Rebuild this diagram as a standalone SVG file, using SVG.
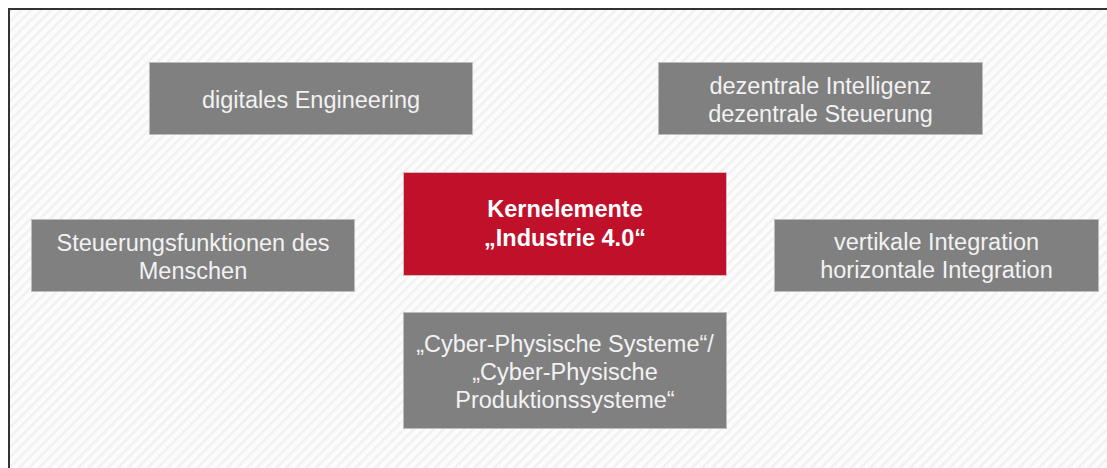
<svg xmlns="http://www.w3.org/2000/svg" width="1107" height="468" viewBox="0 0 1107 468">
  <style>
    .box { fill: #808080; stroke: #bdbdbd; stroke-width: 1; }
    .core { fill: #c0102a; stroke: #d9b8bd; stroke-width: 1; }
    .lbl { font-family: "Liberation Sans", Arial, sans-serif; font-size: 23.5px; fill: #f2f2f2; text-anchor: middle; }
    .bold { font-weight: bold; fill: #ffffff; }
  </style>
  <defs>
    <pattern id="hatch" width="7" height="7" patternUnits="userSpaceOnUse" patternTransform="rotate(-45)">
      <rect width="7" height="7" fill="#fcfcfc"/>
      <rect width="7" height="2.5" fill="#f1f1f1"/>
    </pattern>
  </defs>

  <!-- page background and frame -->
  <rect x="0" y="0" width="1107" height="468" fill="#ffffff"/>
  <rect x="9" y="9" width="1098" height="459" fill="url(#hatch)"/>
  <path d="M9 468 V9 H1107" fill="none" stroke="#333333" stroke-width="2"/>

  <g id="connectors"></g>

  <g id="node-engineering">
    <rect class="box" x="149.5" y="62.5" width="323" height="72"/>
    <text class="lbl" x="311" y="107.5">digitales Engineering</text>
  </g>

  <g id="node-dezentral">
    <rect class="box" x="658.5" y="62.5" width="324" height="72"/>
    <text class="lbl" x="820.5" y="94">dezentrale Intelligenz</text>
    <text class="lbl" x="820.5" y="122">dezentrale Steuerung</text>
  </g>

  <g id="node-core">
    <rect class="core" x="403.5" y="172.5" width="323" height="103"/>
    <text class="lbl bold" x="565" y="217">Kernelemente</text>
    <text class="lbl bold" x="565" y="246">„Industrie 4.0“</text>
  </g>

  <g id="node-mensch">
    <rect class="box" x="31.5" y="219.5" width="323" height="72"/>
    <text class="lbl" x="193" y="251">Steuerungsfunktionen des</text>
    <text class="lbl" x="193" y="279">Menschen</text>
  </g>

  <g id="node-integration">
    <rect class="box" x="774.5" y="219.5" width="324" height="72"/>
    <text class="lbl" x="936.5" y="250">vertikale Integration</text>
    <text class="lbl" x="936.5" y="278">horizontale Integration</text>
  </g>

  <g id="node-cps">
    <rect class="box" x="403.5" y="312.5" width="323" height="116"/>
    <text class="lbl" x="565" y="352">„Cyber-Physische Systeme“/</text>
    <text class="lbl" x="565" y="380">„Cyber-Physische</text>
    <text class="lbl" x="565" y="408">Produktionssysteme“</text>
  </g>
</svg>
